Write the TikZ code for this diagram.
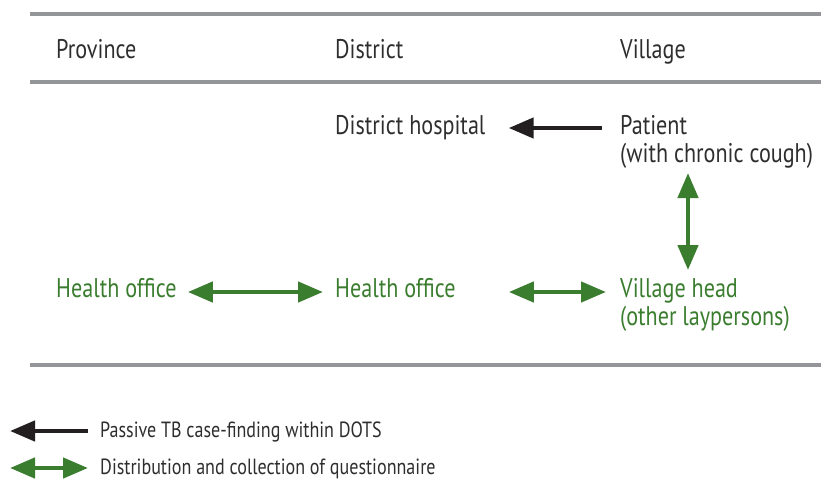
\documentclass[tikz,border=0pt]{standalone}
\usepackage{fontspec}
\setmainfont{PT Sans}[FakeStretch=0.82]
\usetikzlibrary{arrows.meta}
\definecolor{tbgreen}{HTML}{3A7D2E}
\definecolor{tbblack}{HTML}{231F20}
\definecolor{tbtext}{HTML}{2E2E2E}
\definecolor{tbrule}{HTML}{939598}
\begin{document}
\begin{tikzpicture}[x=1pt,y=-1pt,
  lbl/.style={inner sep=0pt, anchor=base west, text=tbtext, font=\fontsize{27}{30}\selectfont},
  glbl/.style={lbl, text=tbgreen},
  leg/.style={inner sep=0pt, anchor=base west, text=tbtext, font=\fontsize{22}{25}\selectfont},
  rule/.style={draw=tbrule, line width=4.5pt},
  blkarrow/.style={draw=tbblack, line width=4.5pt, -{Triangle[length=25pt,width=20pt]}},
  grnarrow/.style={draw=tbgreen, line width=4.5pt, {Triangle[length=25pt,width=20pt]}-{Triangle[length=25pt,width=20pt]}}
]
\useasboundingbox (0,0) rectangle (821,480);
% rules
\coordinate (r1a) at (30,14); \coordinate (r1b) at (821,14);
\coordinate (r2a) at (30,82); \coordinate (r2b) at (821,82);
\coordinate (r3a) at (30,365); \coordinate (r3b) at (821,365);
\draw[rule] (r1a) -- (r1b);
\draw[rule] (r2a) -- (r2b);
\draw[rule] (r3a) -- (r3b);
% headers
\node[lbl] (hprov) at (56,58) {Province};
\node[lbl] (hdist) at (335,58) {District};
\node[lbl] (hvill) at (620,58) {Village};
% nodes
\node[lbl] (hosp) at (335,134) {District hospital};
\node[lbl] (pat) at (620,134) {Patient};
\node[lbl] (patb) at (620,162) {(with chronic cough)};
\node[glbl] (ho1) at (56,297) {Health office};
\node[glbl] (ho2) at (335,297) {Health office};
\node[glbl] (vh) at (620,297) {Village head};
\node[glbl] (vhb) at (620,325) {(other laypersons)};
% arrows
\draw[blkarrow] ([xshift=-18pt,yshift=6pt]pat.base west) -- ([xshift=23pt,yshift=6pt]hosp.base east);
\draw[grnarrow] ([xshift=68pt,yshift=-11pt]patb.base west) -- ([xshift=68pt,yshift=27pt]vh.base west);
\draw[grnarrow] ([xshift=11pt,yshift=5pt]ho1.base east) -- ([xshift=-12pt,yshift=5pt]ho2.base west);
\draw[grnarrow] ([xshift=53pt,yshift=5pt]ho2.base east) -- ([xshift=-14pt,yshift=5pt]vh.base west);
% legend
\node[leg] (leg1) at (100,437) {Passive TB case-finding within DOTS};
\node[leg] (leg2) at (100,474) {Distribution and collection of questionnaire};
\coordinate (l1tip) at (10,431);
\coordinate (l2tip) at (10,468);
\draw[blkarrow] ([xshift=-12pt,yshift=6pt]leg1.base west) -- (l1tip);
\draw[grnarrow] ([xshift=-12pt,yshift=6pt]leg2.base west) -- (l2tip);
\end{tikzpicture}
\end{document}
